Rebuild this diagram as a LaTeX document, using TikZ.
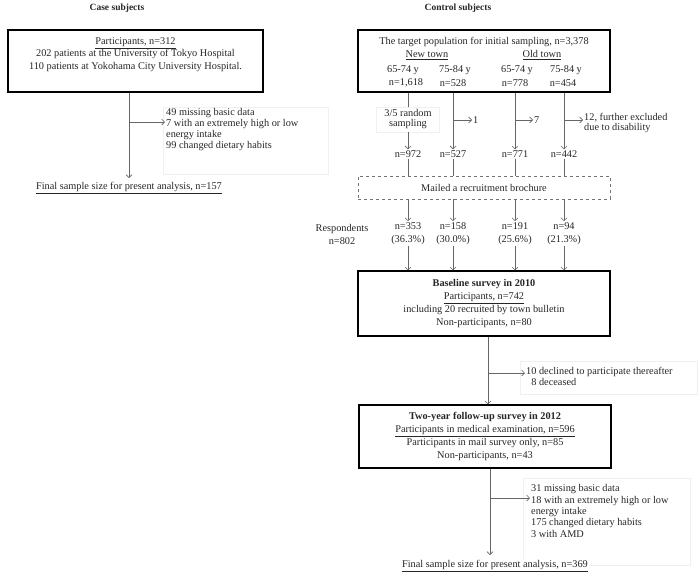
\documentclass[tikz,border=0pt]{standalone}
\usepackage{fontspec}
\setmainfont{Liberation Serif}
\usetikzlibrary{positioning,arrows,arrows.meta}
\tikzset{
  bigbox/.style={
    rectangle,
    draw=black, line width=1.1pt,
    inner sep=0pt
  },
  ghost/.style={
    draw=black!6, line width=0.5pt
  },
  txt/.style={
    align=center, inner sep=1pt, text=black!85,
    font=\fontsize{10.3}{13.3}\selectfont
  },
  sidetxt/.style={
    align=left, anchor=west, inner sep=1pt, text=black!85,
    font=\fontsize{10.3}{11.3}\selectfont
  },
  link/.style={
    draw=black!60, line width=0.6pt
  },
}

\begin{document}
\begin{tikzpicture}[x=1pt,y=-1pt,>={Straight Barb[length=3pt,width=6pt]}]
\useasboundingbox (0,0) rectangle (700,582);

% faint frames
\draw[ghost] (163,107) rectangle (328,174);
\draw[ghost] (520,361) rectangle (697,394);
\draw[ghost] (523,478) rectangle (690,565);

% case subjects
\node[txt, font=\bfseries\fontsize{9.5}{11}\selectfont] (CASETITLE) at (117,8) {Case subjects};
\node[bigbox, minimum width=255pt, minimum height=62pt] (CASEBOX) at (135.5,61) {};
\node[txt, font=\fontsize{10.3}{12.5}\selectfont] (CASETXT) at (135.5,54.5) {\underline{Participants, n=312}\\202 patients at the University of Tokyo Hospital\\110 patients at Yokohama City University Hospital.};
\node[txt] (CASEFINAL) at (129,188) {\underline{Final sample size for present analysis, n=157}};
\node[sidetxt] (CASEEXCL) at (165,129.5) {49 missing basic data\\7 with an extremely high or low\\energy intake\\99 changed dietary habits};

\draw [link,->,shorten >=3pt] (CASEBOX.south -| CASEFINAL) -- (CASEFINAL);
\coordinate (CASEBR) at (129,122);
\draw [link,->] (CASEBR) -- (CASEBR -| CASEEXCL.west);

% control subjects
\node[txt, font=\bfseries\fontsize{9.5}{11}\selectfont] (CTRLTITLE) at (458,8) {Control subjects};
\node[bigbox, minimum width=252pt, minimum height=62pt] (CTRLBOX) at (484,61) {};
\node[txt] (TARGET) at (484,42) {The target population for initial sampling, n=3,378};
\node[txt] (NEWTOWN) at (427,55) {\underline{New town}};
\node[txt] (OLDTOWN) at (542,55) {\underline{Old town}};
\node[txt] (AGE1) at (403,70) {65-74 y};
\node[txt] (AGE2) at (455,70) {75-84 y};
\node[txt] (AGE3) at (517,70) {65-74 y};
\node[txt] (AGE4) at (566,70) {75-84 y};
\node[txt] (N1) at (406,83) {n=1,618};
\node[txt] (N2) at (453,83) {n=528};
\node[txt] (N3) at (515,83) {n=778};
\node[txt] (N4) at (563,83) {n=454};

\node[txt, draw=black!6, font=\fontsize{10.3}{10}\selectfont, minimum width=63pt, minimum height=25pt] (SAMP) at (408,119.5) {3/5 random\\sampling};
\node[txt] (S1) at (408,154) {n=972};
\node[txt] (S2) at (453,154) {n=527};
\node[txt] (S3) at (515,154) {n=771};
\node[txt] (S4) at (564,154) {n=442};

\node[sidetxt] (EX2) at (472,120) {1};
\node[sidetxt] (EX3) at (533,120) {7};
\node[sidetxt, font=\fontsize{10.3}{10}\selectfont] (EX4) at (583,123) {12, further excluded\\due to disability};

\draw [link] (CTRLBOX.south -| SAMP) -- (SAMP);
\draw [link,->] (SAMP) -- (S1);
\draw [link,->] (CTRLBOX.south -| S2) -- (S2);
\draw [link,->] (CTRLBOX.south -| S3) -- (S3);
\draw [link,->] (CTRLBOX.south -| S4) -- (S4);
\draw [link,->] (EX2.west -| S2) -- (EX2.west);
\draw [link,->] (EX3.west -| S3) -- (EX3.west);
\draw [link,->] ([yshift=3pt]EX4.west -| S4) -- ([yshift=3pt]EX4.west);

\node[txt, draw=black!55, dashed, line width=0.4pt, minimum width=252pt, minimum height=23pt] (MAIL) at (484,187.5) {Mailed a recruitment brochure};
\draw [link] (S1) -- (S1 |- MAIL.north);
\draw [link] (S2) -- (S2 |- MAIL.north);
\draw [link] (S3) -- (S3 |- MAIL.north);
\draw [link] (S4) -- (S4 |- MAIL.north);

\node[txt] (RESP) at (342,234.5) {Respondents\\n=802};
\node[txt] (R1) at (408,233.5) {n=353\\(36.3\%)};
\node[txt] (R2) at (453,233.5) {n=158\\(30.0\%)};
\node[txt] (R3) at (515,233.5) {n=191\\(25.6\%)};
\node[txt] (R4) at (564,233.5) {n=94\\(21.3\%)};
\draw [link,->] (MAIL.south -| R1) -- (R1);
\draw [link,->] (MAIL.south -| R2) -- (R2);
\draw [link,->] (MAIL.south -| R3) -- (R3);
\draw [link,->] (MAIL.south -| R4) -- (R4);

\node[bigbox, txt, text=black!85, minimum width=252pt, minimum height=65pt] (BASE) at (484,303.5) {\textbf{Baseline survey in 2010}\\\underline{Participants, n=742}\\including 20 recruited by town bulletin\\Non-participants, n=80};
\draw [link,->] (R1) -- (R1 |- BASE.north);
\draw [link,->] (R2) -- (R2 |- BASE.north);
\draw [link,->] (R3) -- (R3 |- BASE.north);
\draw [link,->] (R4) -- (R4 |- BASE.north);

\node[bigbox, txt, text=black!85, minimum width=252pt, minimum height=63pt] (FOLLOW) at (485,436.5) {\textbf{Two-year follow-up survey in 2012}\\\underline{Participants in medical examination, n=596}\\Participants in mail survey only, n=85\\Non-participants, n=43};
\node[sidetxt] (DECL) at (525,376.5) {10 declined to participate thereafter\\\phantom{1}8 deceased};

\coordinate (BASESTEM) at ([xshift=4pt]BASE.south);
\coordinate (DECLBR) at ([yshift=3.5pt]DECL.west);
\draw [link,->] (BASESTEM) -- (BASESTEM |- FOLLOW.north);
\draw [link,->] (DECLBR -| BASESTEM) -- (DECLBR);

\node[txt, fill=white] (FINAL) at (495,566) {\underline{Final sample size for present analysis, n=369}};
\node[sidetxt] (EXCL) at (530,511) {31 missing basic data\\18 with an extremely high or low\\energy intake\\175 changed dietary habits\\3 with AMD};

\coordinate (FOLLOWSTEM) at ([xshift=5pt]FOLLOW.south);
\coordinate (EXCLBR) at ([yshift=13pt]EXCL.west);
\draw [link,->,shorten >=4pt] (FOLLOWSTEM) -- (FOLLOWSTEM |- FINAL.north);
\draw [link,->] (EXCLBR -| FOLLOWSTEM) -- (EXCLBR);
\end{tikzpicture}
\end{document}
